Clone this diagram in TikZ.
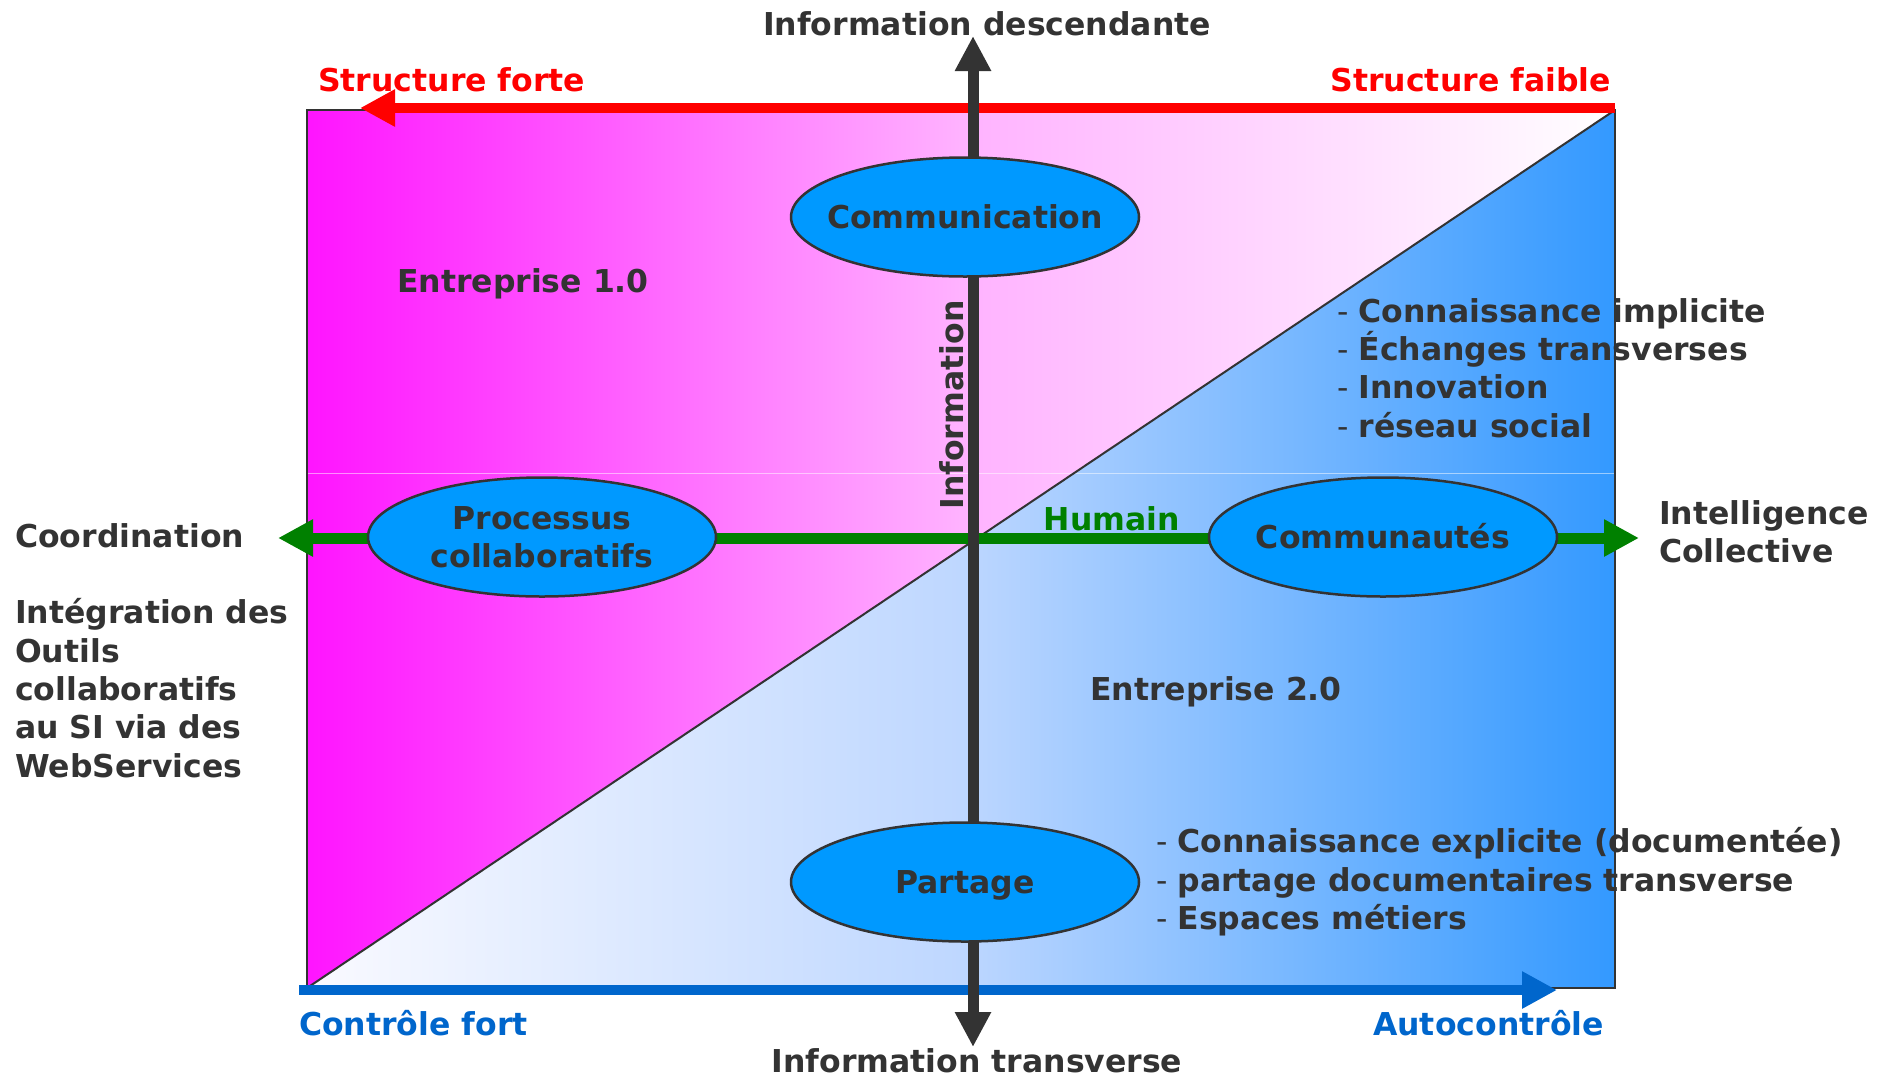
\documentclass[tikz,border=0pt]{standalone}
\usepackage{fontspec}
\setmainfont{DejaVu Sans}
\usetikzlibrary{arrows.meta,shapes.geometric}
\definecolor{txt}{HTML}{333333}
\definecolor{ellfill}{HTML}{0099FF}
\definecolor{bluearr}{HTML}{0066CC}
\definecolor{greenarr}{HTML}{008000}
\definecolor{redarr}{HTML}{FF0000}
\definecolor{pinkL}{RGB}{255,20,255}
\definecolor{pinkM}{RGB}{255,178,255}
\definecolor{blueL}{RGB}{250,250,255}
\definecolor{blueM}{RGB}{190,215,255}
\definecolor{blueR}{RGB}{51,153,255}
\newcommand{\zw}[1]{\makebox[0pt][c]{#1}}
\begin{document}
\begin{tikzpicture}[x=1pt,y=-1pt,
  every node/.style={font=\bfseries\fontsize{31.5}{38.5}\selectfont, text=txt, inner sep=0pt},
  lw/.style={anchor=base west},
  le/.style={anchor=base east},
  lc/.style={anchor=base},
  ell/.style={ellipse, draw=txt, line width=2.5pt, fill=ellfill, minimum width=348pt, minimum height=119pt, inner sep=0pt, align=center},
  oneline/.style={text height=23pt, text depth=0pt},
  axisv/.style={draw=txt, line width=11pt, {Triangle[length=35pt,width=34pt]}-{Triangle[length=35pt,width=34pt]}},
  axisg/.style={draw=greenarr, line width=11pt, {Triangle[length=35pt,width=35pt]}-{Triangle[length=35pt,width=35pt]}},
  axisr/.style={draw=redarr, line width=10pt, -{Triangle[length=35pt,width=35pt]}},
  axisb/.style={draw=bluearr, line width=10pt, -{Triangle[length=35pt,width=35pt]}},
  border/.style={draw=txt, line width=2.5pt}
]
\useasboundingbox (0,0) rectangle (1892,1077);
% frame
\coordinate (TL) at (307,110);
\coordinate (TR) at (1615,110);
\coordinate (BL) at (307,988);
\coordinate (BR) at (1615,988);
\fill[left color=pinkL, right color=white, middle color=pinkM] (TL) rectangle (BR);
\fill[left color=blueL, right color=blueR, middle color=blueM] (BL) -- (TR) -- (BR) -- cycle;
\draw[white, opacity=0.5, line width=1pt] (307,473) -- (1615,473);
\draw[border] (TL) rectangle (BR);
\draw[draw=txt, line width=2pt] (BL) -- (TR);
% axes end points
\coordinate (gL) at (278,538);
\coordinate (gR) at (1639,538);
\coordinate (rS) at (1615,108);
\coordinate (rE) at (360,108);
\coordinate (bS) at (299,990);
\coordinate (bE) at (1557,990);
\coordinate (vT) at (973,36);
\coordinate (vB) at (973,1047);
\draw[axisg] (gL) -- (gR);
\draw[axisr] (rS) -- (rE);
\draw[axisb] (bS) -- (bE);
\draw[axisv] (vB) -- (vT);
% ellipses
\node[ell, oneline] (comm) at (965,217) {\zw{Communication}};
\node[ell] (proc) at (542,537) {\zw{Processus}\\\zw{collaboratifs}};
\node[ell, oneline] (commu) at (1383,537) {\zw{Communautés}};
\node[ell, oneline] (part) at (965,882) {\zw{Partage}};
% axis labels
\node[lc] (tInfoD) at (987,35) {Information descendante};
\node[lc] (tInfoT) at (977,1072) {Information transverse};
\node[lw, text=redarr] (tSF) at (318,91) {Structure forte};
\node[le, text=redarr] (tSf) at (1611,91) {Structure faible};
\node[lw, text=bluearr] (tCF) at (299,1035) {Contrôle fort};
\node[le, text=bluearr] (tAC) at (1604,1035) {Autocontrôle};
\node[lc, text=greenarr] (tHum) at (1112,530) {Humain};
\node[rotate=90] (tInfo) at (952,405) {Information};
% left texts
\node[lw] (tCoord) at (15,547) {Coordination};
\node[lw] (tI1) at (15,623) {Intégration des};
\node[lw] (tI2) at (15,662) {Outils};
\node[lw] (tI3) at (15,700) {collaboratifs};
\node[lw] (tI4) at (15,738) {au SI via des};
\node[lw] (tI5) at (15,777) {WebServices};
% right texts
\node[lw] (tIC1) at (1659,524) {Intelligence};
\node[lw] (tIC2) at (1659,562) {Collective};
% enterprise labels
\node[lw] (tE1) at (397,292) {Entreprise 1.0};
\node[lc] (tE2) at (1216,700) {Entreprise 2.0};
% lists
\node[lw] (l1) at (1337,322) {\mdseries -\ \bfseries Connaissance implicite};
\node[lw] (l2) at (1337,360) {\mdseries -\ \bfseries Échanges transverses};
\node[lw] (l3) at (1337,398) {\mdseries -\ \bfseries Innovation};
\node[lw] (l4) at (1337,437) {\mdseries -\ \bfseries réseau social};
\node[lw] (m1) at (1156,852) {\mdseries -\ \bfseries Connaissance explicite (documentée)};
\node[lw] (m2) at (1156,891) {\mdseries -\ \bfseries partage documentaires transverse};
\node[lw] (m3) at (1156,929) {\mdseries -\ \bfseries Espaces métiers};
\end{tikzpicture}
\end{document}
